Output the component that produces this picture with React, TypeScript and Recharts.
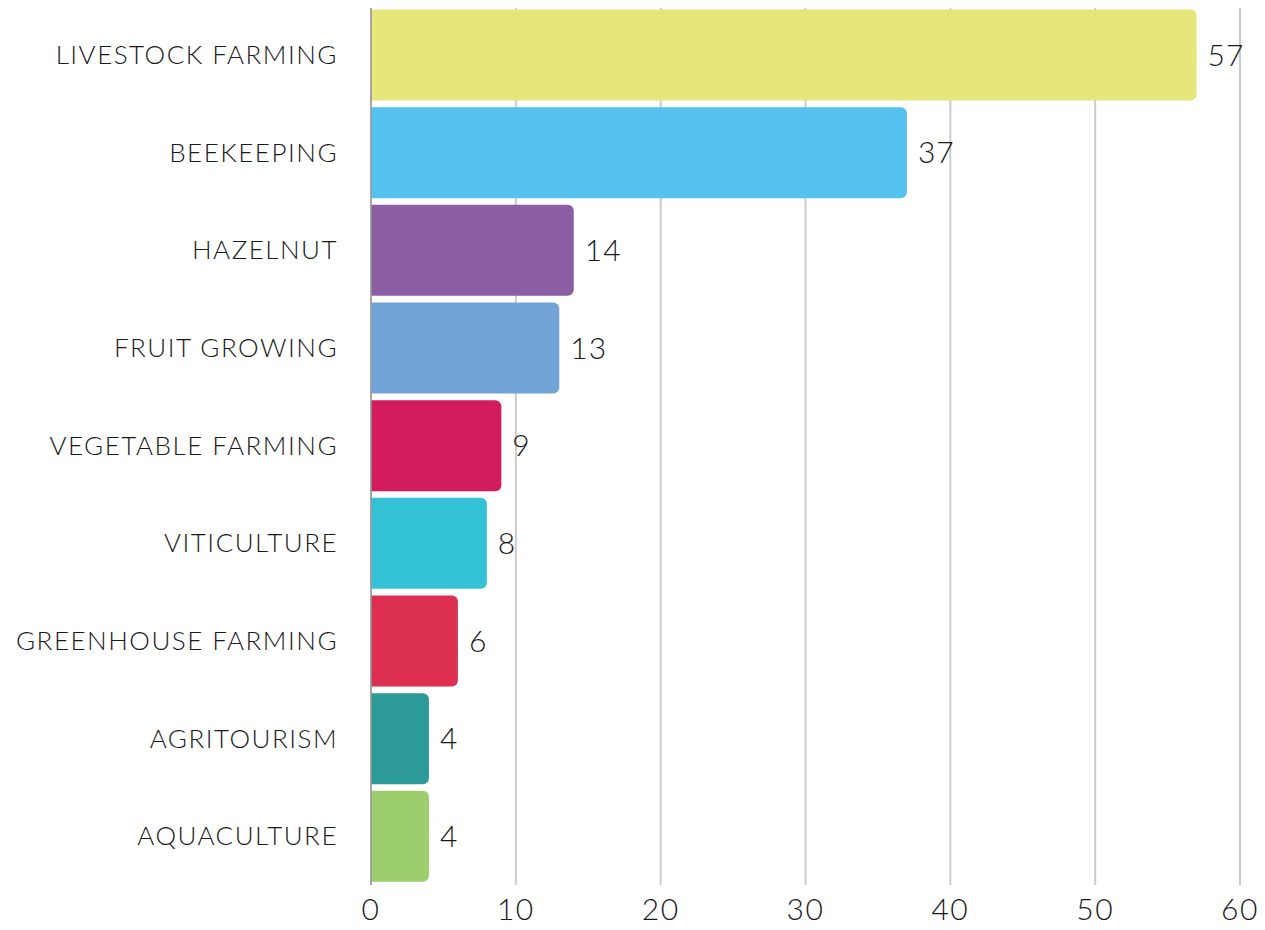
import { Bar, BarChart, CartesianGrid, Cell, LabelList, XAxis, YAxis } from 'recharts';

const categories = [
  'LIVESTOCK FARMING',
  'BEEKEEPING',
  'HAZELNUT',
  'FRUIT GROWING',
  'VEGETABLE FARMING',
  'VITICULTURE',
  'GREENHOUSE FARMING',
  'AGRITOURISM',
  'AQUACULTURE',
];
const counts = [57, 37, 14, 13, 9, 8, 6, 4, 4];
const barColors = ['#E5E77B', '#55C1EE', '#8B5EA4', '#72A3D6', '#D31C5D', '#33C1D5', '#DC2F4F', '#2C9A98', '#9DCE6D'];
const xTicks = [0, 10, 20, 30, 40, 50, 60];

const data = categories.map((name, i) => ({ name, value: counts[i] }));

const font = 'Lato, "Open Sans", sans-serif';

export default function App() {
  return (
    <div style={{ margin: -8, width: 1265, height: 930, background: '#fff' }}>
      <BarChart
        width={1265}
        height={930}
        data={data}
        layout="vertical"
        margin={{ top: 6, right: 25, bottom: 0, left: 0 }}
        barCategoryGap={3.5}
      >
        <CartesianGrid horizontal={false} stroke="#cccccc" strokeWidth={2} />
        <XAxis
          type="number"
          domain={[0, 60]}
          ticks={xTicks}
          axisLine={false}
          tickLine={false}
          height={45}
          tick={{ fill: '#1a1a1a', fontSize: 30, fontFamily: font, fontWeight: 300, letterSpacing: 1.5 }}
          tickMargin={8}
        />
        <YAxis
          type="category"
          dataKey="name"
          width={371}
          axisLine={{ stroke: '#999999', strokeWidth: 1.5 }}
          tickLine={false}
          tickMargin={27}
          tick={{ fill: '#1a1a1a', fontSize: 26, fontFamily: font, fontWeight: 300, letterSpacing: 1.5 }}
        />
        <Bar dataKey="value" radius={[0, 6, 6, 0]} isAnimationActive={false}>
          {data.map((d, i) => (
            <Cell key={d.name} fill={barColors[i]} />
          ))}
          <LabelList
            dataKey="value"
            position="right"
            offset={11}
            fill="#1a1a1a"
            fontSize={30}
            fontWeight={300}
            fontFamily={font}
            letterSpacing={1}
          />
        </Bar>
      </BarChart>
    </div>
  );
}
